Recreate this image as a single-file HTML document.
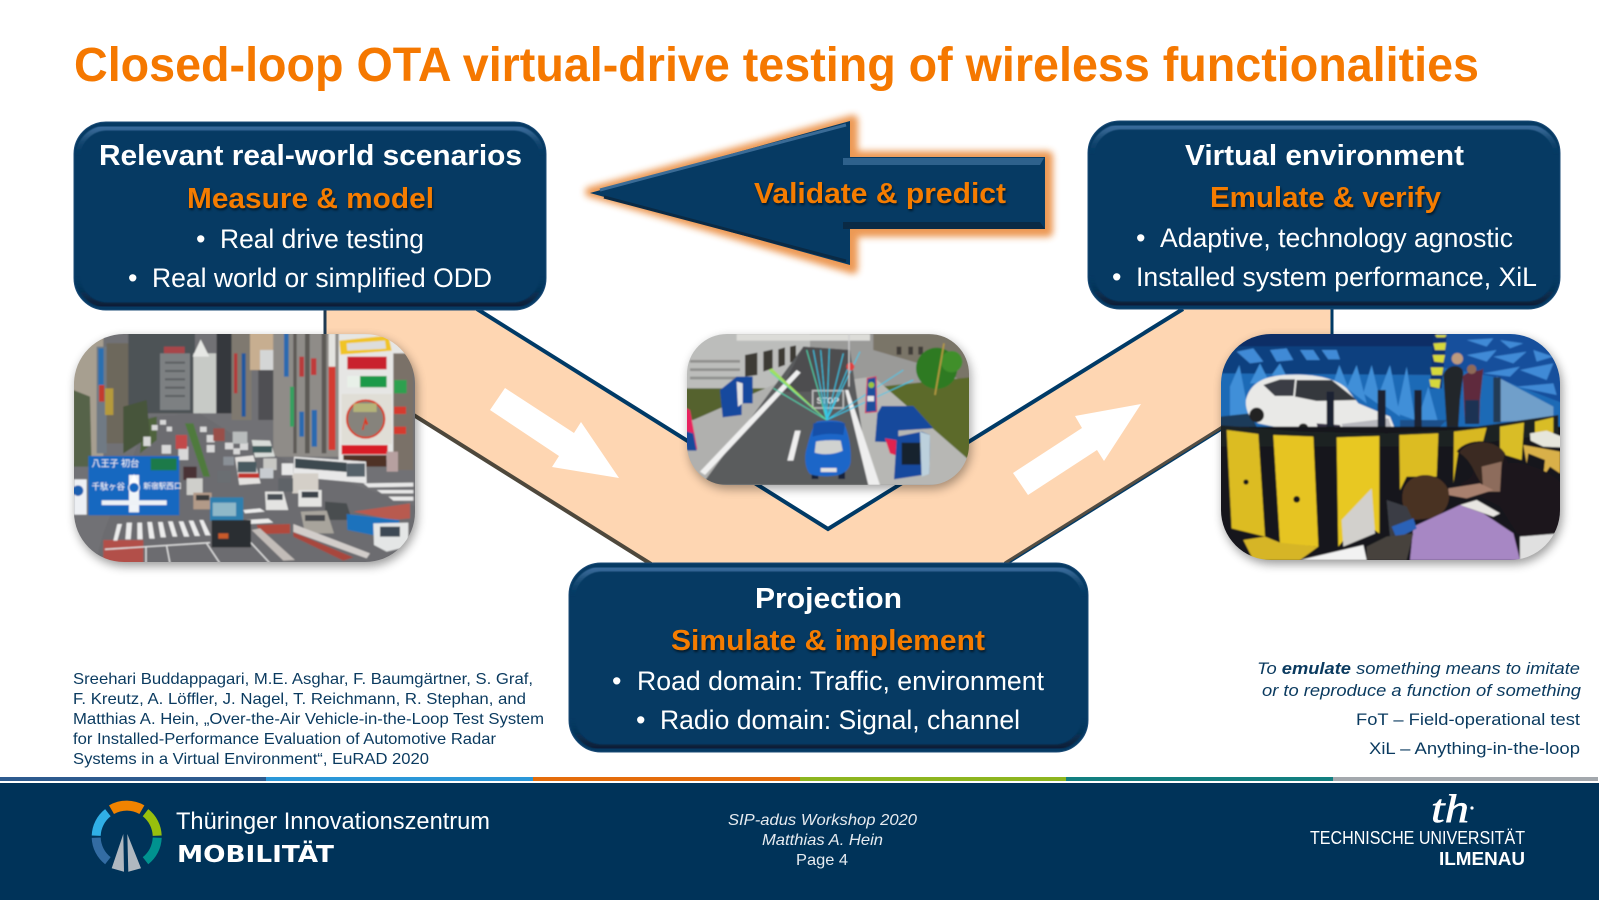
<!DOCTYPE html>
<html lang="en">
<head>
<meta charset="utf-8">
<title>Closed-loop OTA virtual-drive testing</title>
<style>
html,body{margin:0;padding:0;background:#fff;width:1600px;height:900px;overflow:hidden}
svg{display:block}
text{font-family:"Liberation Sans","Noto Sans CJK JP",sans-serif}
.h{font-weight:700;font-size:29px;fill:#fff}
.o{font-weight:700;font-size:29px;fill:#f57c00;filter:drop-shadow(1px 2px 1px rgba(0,0,0,.55))}
.b{font-size:27px;fill:#fff}
.c{font-size:16px;fill:#0a3a5f}
.n{font-size:17px;fill:#0a3a5f}
.f{font-size:16px;fill:#e6ebf0}
.tb{fill:none;stroke:url(#lit);stroke-width:5}
.bb{fill:none;stroke:url(#drk);stroke-width:5}
</style>
</head>
<body>
<svg xmlns="http://www.w3.org/2000/svg" width="1600" height="900" viewBox="0 0 1600 900">
<defs>
<linearGradient id="lit" x1="0" y1="0" x2="0" y2="1">
<stop offset="0" stop-color="#38699a"/><stop offset=".2" stop-color="#2d5f8a"/><stop offset="1" stop-color="#063a63" stop-opacity="0"/>
</linearGradient>
<linearGradient id="drk" x1="0" y1="1" x2="0" y2="0">
<stop offset="0" stop-color="#071f38"/><stop offset=".25" stop-color="#0a2a48"/><stop offset="1" stop-color="#063a63" stop-opacity="0"/>
</linearGradient>
<filter id="glow" x="-10%" y="-20%" width="120%" height="140%"><feGaussianBlur stdDeviation="3.5"/></filter>
<filter id="sh" x="-10%" y="-10%" width="120%" height="125%"><feGaussianBlur stdDeviation="5"/></filter>
<filter id="soft" x="-2%" y="-2%" width="104%" height="104%"><feGaussianBlur stdDeviation="0.9"/></filter>
<filter id="bv" x="-5%" y="-5%" width="110%" height="110%"><feGaussianBlur stdDeviation="0.6"/></filter>
<clipPath id="p1"><rect x="74" y="334" width="341" height="228" rx="50"/></clipPath>
<clipPath id="p2"><rect x="687" y="334" width="282" height="151" rx="40"/></clipPath>
<clipPath id="p3"><rect x="1221" y="334" width="339" height="226" rx="50"/></clipPath>
</defs>

<rect width="1600" height="900" fill="#fff"/>

<!-- Title -->
<text x="74" y="81" font-size="48" font-weight="700" fill="#f57800" textLength="1405" lengthAdjust="spacingAndGlyphs">Closed-loop OTA virtual-drive testing of wireless functionalities</text>

<!-- V band -->
<polygon points="326,309 477,309 828,529 1183,309 1331,309 1331,360 1005,564 651,564 326,360" fill="#fed6b2"/>
<polyline points="477,309 828,529 1183,309" fill="none" stroke="#003a66" stroke-width="4"/>
<line x1="325" y1="309" x2="325" y2="340" stroke="#1f3a52" stroke-width="3"/>
<line x1="1332" y1="309" x2="1332" y2="340" stroke="#003a66" stroke-width="3"/>
<line x1="326" y1="360" x2="651" y2="564" stroke="#4e483c" stroke-width="4"/>
<line x1="1331" y1="360" x2="1005" y2="564" stroke="#003a66" stroke-width="4"/>
<line x1="1331" y1="359" x2="1005" y2="563" stroke="#544d42" stroke-width="3"/>
<polygon points="505,388 490,410 559,456 552,467 619,478 581,422 574,433" fill="#fff"/>
<polygon points="1141,404 1075,416 1082,428 1013,473 1028,495 1097,450 1104,461" fill="#fff"/>

<!-- Box 1 -->
<rect x="74" y="122" width="472" height="188" rx="32" fill="#063a63" stroke="#1b4b76" stroke-width="1"/>
<path class="tb" filter="url(#bv)" d="M78 156A29 29 0 0 1 107 128H513A29 29 0 0 1 542 156"/>
<path class="bb" filter="url(#bv)" d="M78 276A29 29 0 0 0 107 305H513A29 29 0 0 0 542 276"/>
<text class="h" x="99" y="165" textLength="423" lengthAdjust="spacingAndGlyphs">Relevant real-world scenarios</text>
<text class="o" x="187" y="208" textLength="247" lengthAdjust="spacingAndGlyphs">Measure &amp; model</text>
<text class="b" x="196" y="248">•</text><text class="b" x="220" y="248" textLength="204" lengthAdjust="spacingAndGlyphs">Real drive testing</text>
<text class="b" x="128" y="287">•</text><text class="b" x="152" y="287" textLength="340" lengthAdjust="spacingAndGlyphs">Real world or simplified ODD</text>

<!-- Box 2 -->
<rect x="1088" y="121" width="472" height="188" rx="32" fill="#063a63" stroke="#1b4b76" stroke-width="1"/>
<path class="tb" filter="url(#bv)" d="M1092 155A29 29 0 0 1 1121 127H1527A29 29 0 0 1 1556 155"/>
<path class="bb" filter="url(#bv)" d="M1092 275A29 29 0 0 0 1121 304H1527A29 29 0 0 0 1556 275"/>
<text class="h" x="1185" y="165" textLength="279" lengthAdjust="spacingAndGlyphs">Virtual environment</text>
<text class="o" x="1210" y="207" textLength="231" lengthAdjust="spacingAndGlyphs">Emulate &amp; verify</text>
<text class="b" x="1136" y="247">•</text><text class="b" x="1160" y="247" textLength="353" lengthAdjust="spacingAndGlyphs">Adaptive, technology agnostic</text>
<text class="b" x="1112" y="286">•</text><text class="b" x="1136" y="286" textLength="401" lengthAdjust="spacingAndGlyphs">Installed system performance, XiL</text>

<!-- Central arrow -->
<polygon points="590,192 853,120 853,156 1048,156 1048,232 853,232 853,269" fill="#e8802a" stroke="#e8802a" stroke-width="10" stroke-linejoin="round" filter="url(#glow)" opacity=".8"/>
<polygon points="590,193 850,121 850,157 1045,157 1045,229 850,229 850,265" fill="#063a63"/>
<polyline points="600,190 846,125" fill="none" stroke="#3a6b96" stroke-width="3"/>
<polygon points="843,158 1044,158 1040,165 843,165" fill="#2e618c"/>
<polyline points="604,197 846,261" fill="none" stroke="#0a2a45" stroke-width="3"/>
<polygon points="843,222 1040,222 1045,229 843,229" fill="#0a2a45"/>
<text class="o" x="754" y="203" textLength="252" lengthAdjust="spacingAndGlyphs">Validate &amp; predict</text>

<!-- Photo 1 shadow + image -->
<rect x="76" y="338" width="341" height="228" rx="50" fill="#000" opacity=".4" filter="url(#sh)"/>
<g clip-path="url(#p1)"><g filter="url(#soft)"><g transform="translate(60 320) scale(.33333)">
<rect x="30" y="30" width="1050" height="720" fill="#717174"/>
<rect x="30" y="30" width="100" height="400" fill="#a79f90"/>
<rect x="110" y="80" width="30" height="320" fill="#6f7a84"/>
<rect x="115" y="85" width="16" height="110" fill="#2a6fb0"/><rect x="117" y="195" width="16" height="50" fill="#c43a2e"/>
<rect x="140" y="70" width="70" height="300" fill="#6d675c"/>
<rect x="135" y="205" width="25" height="80" fill="#b59a3a"/>
<rect x="205" y="30" width="200" height="250" fill="#4e5256"/>
<rect x="300" y="100" width="90" height="170" fill="#7d8082"/>
<g fill="#5c5f62"><rect x="315" y="125" width="60" height="6"/><rect x="315" y="150" width="60" height="6"/><rect x="315" y="175" width="60" height="6"/><rect x="315" y="200" width="60" height="6"/><rect x="315" y="225" width="60" height="6"/></g>
<rect x="312" y="80" width="62" height="20" fill="#a8454a"/>
<rect x="400" y="100" width="68" height="180" fill="#c7cac6"/>
<polygon points="398,110 422,58 448,110" fill="#e6e7e4"/>
<rect x="470" y="30" width="45" height="250" fill="#34383c"/>
<rect x="515" y="30" width="60" height="270" fill="#7f7970"/>
<rect x="545" y="100" width="12" height="190" fill="#24589e"/>
<rect x="522" y="100" width="10" height="120" fill="#b43a3a"/>
<rect x="570" y="30" width="70" height="120" fill="#c7ae90"/>
<rect x="600" y="90" width="40" height="60" fill="#d4d6d6"/>
<rect x="595" y="150" width="45" height="150" fill="#4f5052"/>
<rect x="640" y="30" width="200" height="380" fill="#8f8c88"/>
<g fill="#5d5a56"><rect x="735" y="40" width="14" height="360"/><rect x="700" y="40" width="10" height="360"/><rect x="785" y="40" width="14" height="360"/></g>
<rect x="672" y="40" width="14" height="130" fill="#2a6ab0"/>
<rect x="690" y="200" width="12" height="120" fill="#36a060"/>
<rect x="718" y="110" width="14" height="60" fill="#b93a3a"/>
<rect x="753" y="115" width="16" height="50" fill="#c03a3a"/>
<rect x="755" y="270" width="16" height="110" fill="#2a6ab0"/>
<rect x="718" y="275" width="14" height="75" fill="#2a6ab0"/>
<rect x="806" y="140" width="20" height="250" fill="#d43a30"/>
<rect x="806" y="40" width="20" height="100" fill="#e4e4e0"/>
<rect x="836" y="40" width="210" height="380" fill="#e6e6e4"/>
<rect x="1000" y="100" width="60" height="350" fill="#7a7168"/>
<polygon points="838,62 985,46 995,92 842,104" fill="#f0c428"/>
<polygon points="860,70 975,62 978,86 862,92" fill="#ddd"/>
<rect x="862" y="110" width="118" height="38" fill="#c9222e"/>
<rect x="862" y="168" width="118" height="34" fill="#e8f0e8"/><rect x="900" y="168" width="80" height="34" fill="#1f9a4a"/>
<rect x="1002" y="180" width="38" height="40" fill="#2fa050"/>
<rect x="1002" y="260" width="36" height="22" fill="#d63a2e"/><rect x="1002" y="320" width="36" height="22" fill="#d63a2e"/>
<rect x="845" y="222" width="150" height="150" fill="#e0ded6"/>
<circle cx="917" cy="297" r="56" fill="#86837c" stroke="#d83a22" stroke-width="6"/>
<rect x="880" y="250" width="70" height="26" fill="#c8c878" opacity=".7"/>
<polygon points="905,330 916,290 925,312 918,316 915,308 911,330" fill="#d83a22"/>
<rect x="845" y="375" width="138" height="28" fill="#d81f26"/>
<rect x="850" y="405" width="130" height="35" fill="#4f3028"/>
<rect x="980" y="395" width="34" height="60" fill="#b7a0a0"/>
<!-- road -->
<polygon points="270,290 420,280 560,370 700,430 1070,560 1070,750 100,750 130,640 230,380" fill="#6c6c70"/>
<polygon points="250,300 290,290 290,360 240,400" fill="#50643e"/>
<polygon points="375,310 400,310 450,470 430,470" fill="#4f7a3c"/>
<polygon points="190,260 260,240 270,350 190,400" fill="#46543a"/>
<polygon points="40,210 90,230 95,440 40,440" fill="#56634a"/>
<!-- far traffic -->
<g fill="#d8d8d8">
<rect x="275" y="315" width="18" height="16"/><rect x="300" y="300" width="18" height="14"/><rect x="320" y="320" width="16" height="14"/><rect x="420" y="320" width="20" height="16"/><rect x="440" y="345" width="24" height="22"/><rect x="305" y="375" width="28" height="26"/><rect x="355" y="380" width="30" height="40"/><rect x="495" y="368" width="25" height="20"/><rect x="540" y="368" width="24" height="22"/><rect x="440" y="375" width="24" height="22"/>
<rect x="520" y="385" width="20" height="18"/><rect x="250" y="350" width="22" height="28"/>
</g>
<rect x="347" y="345" width="34" height="42" fill="#c24a4a"/>
<rect x="460" y="325" width="34" height="38" fill="#994f48"/>
<rect x="518" y="335" width="44" height="36" fill="#b8bcbc"/>
<polygon points="575,360 630,362 645,410 585,412" fill="#d8dcd8"/><rect x="578" y="378" width="58" height="20" fill="#3d5a5a"/>
<!-- bus centre -->
<polygon points="525,412 580,406 602,490 538,495" fill="#e4e2e0"/><rect x="533" y="425" width="56" height="32" fill="#4a5a60"/><rect x="535" y="460" width="62" height="14" fill="#c2352e"/>
<!-- white bus -->
<polygon points="702,410 918,425 920,490 700,470" fill="#e8e8e8"/><polygon points="705,415 860,428 860,456 705,444" fill="#3e4850"/><rect x="860" y="430" width="55" height="40" fill="#56626a"/>
<!-- truck white middle -->
<rect x="697" y="460" width="78" height="60" fill="#d4cfc8"/><rect x="715" y="510" width="70" height="50" fill="#e4e4e2"/><rect x="725" y="515" width="50" height="18" fill="#3a4248"/>
<rect x="665" y="430" width="35" height="35" fill="#e8e8e8"/>
<rect x="610" y="415" width="40" height="35" fill="#c8c8c4"/><rect x="600" y="445" width="40" height="30" fill="#c8ccd0"/>
<rect x="490" y="410" width="32" height="26" fill="#8a9096"/><rect x="472" y="452" width="40" height="36" fill="#6a6e72"/>
<rect x="655" y="475" width="44" height="40" fill="#5e6468"/>
<rect x="370" y="440" width="40" height="40" fill="#4a3034"/><rect x="380" y="475" width="48" height="50" fill="#cfcfcb"/>
<rect x="400" y="518" width="55" height="50" fill="#b29a88"/><rect x="408" y="525" width="40" height="16" fill="#3c3c3c"/>
<polygon points="615,515 670,515 685,570 618,570" fill="#e4e4e2"/><rect x="622" y="522" width="46" height="18" fill="#4a5056"/>
<polygon points="795,545 860,550 876,600 795,600" fill="#4a4d50"/>
<polygon points="722,575 800,572 822,640 735,640" fill="#a8a49c"/><rect x="735" y="585" width="60" height="18" fill="#484c50"/>
<!-- reds on ground -->
<polygon points="880,575 1050,550 1050,595 1000,600" fill="#b85a50"/>
<rect x="130" y="660" width="120" height="70" fill="#b25048"/>
<!-- crosswalk right -->
<g fill="#e8e8e8"><polygon points="910,490 1060,488 1060,500 925,502"/><polygon points="950,510 1060,510 1060,520 965,520"/><polygon points="985,530 1060,530 1060,542 1000,542"/></g>
<!-- crosswalk -->
<g fill="#ececec">
<polygon points="172,612 186,612 172,662 160,662"/><polygon points="200,608 216,608 212,658 196,658"/><polygon points="232,608 246,608 248,658 232,658"/><polygon points="262,606 276,606 284,656 268,656"/><polygon points="294,606 308,606 318,652 302,652"/><polygon points="324,604 338,604 352,650 338,650"/><polygon points="356,604 370,604 388,650 372,650"/><polygon points="386,602 400,602 420,648 404,648"/><polygon points="418,600 430,600 452,646 436,646"/>
<polygon points="555,600 625,596 640,608 570,612"/><polygon points="550,570 600,565 615,575 555,580"/>
</g>
<g stroke="#e4e4e4" stroke-width="4" fill="none"><line x1="440" y1="670" x2="480" y2="730"/><line x1="570" y1="665" x2="630" y2="730"/><line x1="135" y1="688" x2="450" y2="668"/><line x1="258" y1="680" x2="258" y2="730"/><line x1="320" y1="678" x2="330" y2="730"/></g>
<!-- dark truck -->
<rect x="450" y="532" width="100" height="70" fill="#2f7fae"/><rect x="458" y="548" width="70" height="40" fill="#8fb8c8"/>
<rect x="455" y="600" width="118" height="82" fill="#2c2e30"/><rect x="475" y="640" width="30" height="16" fill="#c85a2a"/>
<!-- blue truck right -->
<polygon points="860,582 1018,600 1012,660 862,630" fill="#1e72bc"/>
<polygon points="940,610 1045,608 1045,680 980,695 942,675" fill="#e4e6e6"/><rect x="960" y="620" width="60" height="30" fill="#3e4a54"/>
<!-- railings -->
<polygon points="590,615 690,612 690,640 600,642" fill="#b04a3e"/><polygon points="575,630 600,625 705,720 670,722" fill="#c2bcb8"/>
<polygon points="700,612 930,700 920,715 700,636" fill="#d2cdca"/><polygon points="700,636 880,712 850,722 700,650" fill="#a8463c"/>
<!-- sign -->
<rect x="85" y="408" width="273" height="178" fill="#1567c0"/>
<rect x="272" y="415" width="78" height="36" fill="#1c7a4a"/>
<rect x="207" y="465" width="30" height="112" fill="#f0f4f8"/>
<rect x="125" y="541" width="195" height="14" fill="#eef2f6"/>
<polygon points="222,462 236,490 208,490" fill="#fff"/>
<circle cx="222" cy="503" r="16" fill="#1567c0" stroke="#fff" stroke-width="3"/>
<text x="95" y="440" font-size="27" fill="#fff">八王子 初台</text>
<text x="95" y="508" font-size="25" fill="#fff">千駄ヶ谷</text>
<text x="250" y="505" font-size="23" fill="#fff">新宿駅西口</text>
<rect x="42" y="478" width="38" height="106" fill="#eef0f4"/><circle cx="54" cy="512" r="16" fill="#1a5fb0"/>
</g></g></g>

<!-- Photo 2 -->
<rect x="689" y="338" width="282" height="151" rx="40" fill="#000" opacity=".35" filter="url(#sh)"/>
<g clip-path="url(#p2)"><g filter="url(#soft)"><g transform="translate(670 320) scale(.33333)">
<rect x="40" y="30" width="880" height="480" fill="#9a9a98"/>
<rect x="40" y="30" width="380" height="175" fill="#bcbdbb"/>
<g fill="#8f8f8d"><rect x="60" y="120" width="150" height="8"/><rect x="60" y="145" width="150" height="8"/><rect x="60" y="170" width="150" height="8"/></g>
<rect x="200" y="42" width="400" height="20" fill="#dcdcd8"/>
<g fill="#3c3a36"><polygon points="225,105 262,98 262,165 225,170"/><polygon points="280,95 308,88 308,145 280,155"/><polygon points="325,88 345,82 345,135 325,142"/><polygon points="360,80 378,76 378,122 360,128"/></g>
<polygon points="610,42 920,42 920,200 780,140 610,90" fill="#7a7468"/>
<g fill="#3f3c38"><rect x="680" y="80" width="14" height="24"/><rect x="715" y="80" width="14" height="24"/><rect x="745" y="80" width="14" height="24"/></g>
<polygon points="40,205 310,205 70,300 40,300" fill="#54622d"/>
<polygon points="70,300 320,190 400,150 95,495 40,495 40,300" fill="#b0b0ae"/>
<polygon points="630,200 920,170 920,440 760,310" fill="#5b6a2a"/>
<polygon points="530,180 610,170 920,440 920,495 610,495" fill="#b7b7b4"/>
<polygon points="400,80 540,90 600,495 95,495" fill="#5a5b5d"/>
<polygon points="400,80 540,90 530,215 330,215" fill="#4d4e50"/>
<polygon points="380,150 392,158 105,465 90,455" fill="#f0f0f0"/>
<polygon points="525,210 535,210 630,495 595,495" fill="#eee"/>
<polygon points="375,332 392,332 370,422 352,422" fill="#eee"/>
<rect x="428" y="212" width="92" height="52" fill="none" stroke="#bcbcbc" stroke-width="5"/>
<text x="440" y="250" font-size="25" font-weight="700" fill="#e6e6e6">STOP</text>
<g stroke-width="3" fill="none">
<path d="M470 300L300 155M470 300L310 205M470 300L410 90" stroke="#4ed8b0"/>
<path d="M470 300L430 90M470 300L452 90M470 300L478 85M470 300L520 100M470 300L570 95M470 300L540 130M470 300L700 150M470 300L730 180" stroke="#35c8e8"/>
</g>
<polygon points="470,300 296,150 306,145" fill="#a2e060"/>
<circle cx="800" cy="145" r="62" fill="#2f7a24"/><circle cx="845" cy="125" r="32" fill="#3f8f2c"/>
<line x1="822" y1="70" x2="795" y2="225" stroke="#b59a40" stroke-width="5"/>
<polygon points="150,210 200,170 248,170 248,250 215,250 215,285 158,292" fill="#13499e"/>
<polygon points="200,185 218,190 218,250 204,260" fill="#e2e2e2"/>
<polygon points="40,260 60,270 82,388 40,392" fill="#e7245e"/><polygon points="40,330 70,340 80,392 40,392" fill="#18489a"/>
<polygon points="592,175 618,170 620,275 586,278" fill="#1a4f9c" stroke="#d8385a" stroke-width="3"/>
<circle cx="604" cy="195" r="9" fill="#9cc53c"/><rect x="592" y="228" width="20" height="16" fill="#e8e8e8"/>
<circle cx="541" cy="140" r="12" fill="#e04040"/>
<line x1="537" y1="30" x2="537" y2="200" stroke="#cfcfcf" stroke-width="4"/>
<polygon points="635,258 730,258 790,325 685,332 685,368 615,365 622,280" fill="#13489c"/>
<polygon points="645,355 685,362 695,412 660,400" fill="#e02450"/>
<polygon points="680,350 755,335 780,345 778,462 672,478" fill="#134a9e"/><rect x="695" y="368" width="56" height="66" fill="#12202e"/>
<polygon points="750,335 780,345 778,462 755,470" fill="#bcd0dc"/>
<!-- car -->
<rect x="425" y="455" width="20" height="22" fill="#15233a"/><rect x="505" y="455" width="20" height="22" fill="#15233a"/>
<path d="M440 305C465 300 505 300 520 308C535 335 545 380 542 425C540 445 525 462 500 466C470 470 440 470 420 462C405 445 402 410 410 385C418 355 425 325 440 305Z" fill="#1f66c8"/>
<path d="M438 365C460 360 495 360 512 362L518 392C490 405 455 405 434 398Z" fill="#d0d2d0"/>
<path d="M430 310C465 304 505 304 525 310L520 345C490 340 460 340 428 350Z" fill="#1650a8"/>
<rect x="452" y="444" width="48" height="12" fill="#e2e2e2"/>
</g></g></g>

<!-- Photo 3 -->
<rect x="1223" y="338" width="339" height="226" rx="50" fill="#000" opacity=".4" filter="url(#sh)"/>
<g clip-path="url(#p3)"><g filter="url(#soft)"><g transform="translate(1200 320) scale(.33333)">
<rect x="50" y="30" width="1050" height="330" fill="#1f6ab6"/>
<rect x="50" y="30" width="660" height="50" fill="#0a2f66"/>
<polygon points="50,80 710,80 710,165 50,160" fill="#10417f"/>
<polygon points="715,40 1090,40 1090,250 880,170 715,140" fill="#184f9c"/>
<g fill="#3f8ad6">
<polygon points="800,60 880,55 860,80"/><polygon points="900,60 970,70 930,85"/><polygon points="800,105 890,90 860,125"/><polygon points="880,110 980,95 940,130"/><polygon points="1000,90 1060,110 1010,125"/><polygon points="850,160 960,140 930,170"/><polygon points="960,150 1060,130 1040,180"/><polygon points="950,200 1060,190 1070,225"/>
<polygon points="110,95 160,85 190,125 150,130"/><polygon points="210,90 260,85 280,120 230,125"/><polygon points="300,90 340,90 360,120 320,120"/><polygon points="365,90 410,90 420,118 385,118"/>
</g>
<g fill="#3f8fd8">
<polygon points="90,200 118,135 150,300 90,300"/><polygon points="150,190 180,130 210,190"/>
<polygon points="215,165 240,130 265,180"/>
<polygon points="400,190 418,135 445,205"/><polygon points="440,205 470,135 500,250"/><polygon points="490,220 515,135 545,260"/><polygon points="530,240 570,135 600,290"/><polygon points="590,280 620,140 645,300"/><polygon points="650,310 685,200 715,310"/>
</g>
<polygon points="600,300 740,300 700,340 600,340" fill="#1d4f8a"/>
<polygon points="700,45 740,45 725,205 690,205" fill="#0c3270"/>
<g fill="#d6d83a"><polygon points="705,45 740,45 735,52 710,52"/><polygon points="700,70 738,68 735,90 705,90"/><polygon points="698,105 735,105 730,128 703,125"/><polygon points="692,142 730,142 726,165 696,165"/><polygon points="688,178 722,178 718,205 692,200"/></g>
<polygon points="60,290 150,280 170,320 60,320" fill="#1b3a5a"/>
<polygon points="890,170 1060,260 1060,300 890,305" fill="#6f9fca"/>
<!-- car -->
<path d="M138 240C150 190 190 170 250 165C330 160 400 170 440 205L475 250L570 290L590 340L320 340L175 310C150 300 135 270 138 240Z" fill="#e9e9e7"/>
<polygon points="190,195 240,178 285,178 280,228 225,228" fill="#3a3e44"/>
<polygon points="290,180 395,180 470,240 350,243 285,230" fill="#35383c"/>
<polygon points="350,310 420,315 425,340 355,335" fill="#3b3548"/>
<polygon points="425,312 565,295 580,338 435,338" fill="#b8b8be"/>
<circle cx="170" cy="285" r="22" fill="#222"/><circle cx="310" cy="325" r="15" fill="#222"/>
<!-- poles -->
<rect x="380" y="215" width="22" height="125" fill="#1c2430"/>
<rect x="533" y="210" width="24" height="130" fill="#1c2430"/>
<rect x="643" y="210" width="22" height="125" fill="#1c2430"/>
<rect x="880" y="172" width="22" height="135" fill="#233a55"/>
<!-- people standing -->
<path d="M730 165C740 130 790 130 790 160L780 240L775 320L740 320Z" fill="#21252b"/>
<circle cx="772" cy="116" r="17" fill="#bd9a7e"/>
<path d="M788 170C800 150 845 155 850 145L840 240L838 310L795 310Z" fill="#5f2a3c"/>
<rect x="795" y="240" width="42" height="72" fill="#1d3252"/>
<circle cx="815" cy="148" r="14" fill="#8f6a58"/>
<!-- fence -->
<rect x="50" y="320" width="1050" height="430" fill="#15171a"/>
<polygon points="50,315 300,335 560,340 760,330 1075,285 1075,340 760,380 50,380" fill="#1c2024"/>
<polygon points="80,330 175,342 195,650 95,625" fill="#dcbc20"/>
<polygon points="220,345 340,350 355,680 240,670" fill="#e6c420"/>
<polygon points="410,352 538,348 538,640 480,600 415,680" fill="#e8c822"/>
<polygon points="598,345 715,340 710,470 620,470 600,510" fill="#dcbc20"/>
<polygon points="762,335 860,323 845,380 775,395 760,490" fill="#d8b820"/>
<polygon points="900,320 972,308 965,420 900,400" fill="#d9bd26"/>
<polygon points="1005,305 1060,292 1060,340 1005,345" fill="#d9bd26"/>
<polygon points="130,660 195,650 240,668 355,680 300,720 160,720" fill="#d6b528"/>
<circle cx="138" cy="486" r="8" fill="#15171a"/><circle cx="290" cy="538" r="10" fill="#15171a"/>
<!-- table -->
<polygon points="970,375 1080,395 1080,460 1050,440 1030,470 1035,420 985,400 980,430" fill="#d9b04a"/>
<polygon points="990,340 1040,332 1085,350 1085,382 1030,380 992,362" fill="#e6e6dc"/>
<!-- man dark -->
<path d="M770 395C790 360 880 345 915 400L925 430C960 420 1050 450 1085 490L1085 680L1000 660L950 640L900 560L820 520L780 490C840 470 825 430 770 395Z" fill="#1a181a"/>
<path d="M780 395C800 365 880 350 915 400L905 440L880 510C830 510 830 430 780 400Z" fill="#3a2a22"/>
<polygon points="845,440 905,425 900,515 850,515" fill="#8d6c5c"/>
<polygon points="745,505 840,490 880,510 800,535 745,525" fill="#a8806e"/>
<!-- woman purple -->
<path d="M610 510C630 450 720 450 745 510C755 550 730 590 690 595L640 600C615 580 600 550 610 510Z" fill="#4a3024"/>
<path d="M640 620L780 555L850 580L940 640L960 720L630 720Z" fill="#a787c4"/>
<!-- monitor and bottom white -->
<polygon points="425,600 515,505 525,640 430,680" fill="#d2d0cc"/>
<polygon points="300,720 490,675 500,720" fill="#f2f2f2"/>
<polygon points="560,540 620,560 650,625 590,660 570,650" fill="#3a3e44"/>
<polygon points="575,620 640,595 650,625 590,655" fill="#2a62b8"/>
<polygon points="780,555 830,540 900,580 880,590" fill="#e8e6e2"/>
<polygon points="500,680 560,650 640,640 620,720 500,720" fill="#46423e"/>
<polygon points="960,650 1080,640 1080,730 960,730" fill="#e0e0e0"/>
</g></g></g>

<!-- Box 3 -->
<rect x="569" y="563" width="519" height="189" rx="32" fill="#063a63" stroke="#1b4b76" stroke-width="1"/>
<path class="tb" filter="url(#bv)" d="M573 597A29 29 0 0 1 602 569H1055A29 29 0 0 1 1084 597"/>
<path class="bb" filter="url(#bv)" d="M573 718A29 29 0 0 0 602 747H1055A29 29 0 0 0 1084 718"/>
<text class="h" x="755" y="608" textLength="147" lengthAdjust="spacingAndGlyphs">Projection</text>
<text class="o" x="671" y="650" textLength="314" lengthAdjust="spacingAndGlyphs">Simulate &amp; implement</text>
<text class="b" x="612" y="690">•</text><text class="b" x="637" y="690" textLength="407" lengthAdjust="spacingAndGlyphs">Road domain: Traffic, environment</text>
<text class="b" x="636" y="729">•</text><text class="b" x="660" y="729" textLength="360" lengthAdjust="spacingAndGlyphs">Radio domain: Signal, channel</text>

<!-- citation -->
<text class="c" x="73" y="684" textLength="460" lengthAdjust="spacingAndGlyphs">Sreehari Buddappagari, M.E. Asghar, F. Baumgärtner, S. Graf,</text>
<text class="c" x="73" y="704" textLength="453" lengthAdjust="spacingAndGlyphs">F. Kreutz, A. Löffler, J. Nagel, T. Reichmann, R. Stephan, and</text>
<text class="c" x="73" y="724" textLength="471" lengthAdjust="spacingAndGlyphs">Matthias A. Hein, „Over-the-Air Vehicle-in-the-Loop Test System</text>
<text class="c" x="73" y="744" textLength="423" lengthAdjust="spacingAndGlyphs">for Installed-Performance Evaluation of Automotive Radar</text>
<text class="c" x="73" y="764" textLength="356" lengthAdjust="spacingAndGlyphs">Systems in a Virtual Environment“, EuRAD 2020</text>

<!-- notes -->
<text class="n" x="1257" y="674" font-style="italic" textLength="323" lengthAdjust="spacingAndGlyphs">To <tspan font-weight="700">emulate</tspan> something means to imitate</text>
<text class="n" x="1262" y="696" font-style="italic" textLength="319" lengthAdjust="spacingAndGlyphs">or to reproduce a function of something</text>
<text class="n" x="1356" y="725" textLength="224" lengthAdjust="spacingAndGlyphs">FoT – Field-operational test</text>
<text class="n" x="1369" y="754" textLength="211" lengthAdjust="spacingAndGlyphs">XiL – Anything-in-the-loop</text>

<!-- stripe -->
<rect x="0" y="777" width="266" height="4" fill="#2d5a8e"/>
<rect x="266" y="777" width="267" height="4" fill="#2a97d8"/>
<rect x="533" y="777" width="267" height="4" fill="#e46c0a"/>
<rect x="800" y="777" width="266" height="4" fill="#8db51f"/>
<rect x="1066" y="777" width="267" height="4" fill="#127f80"/>
<rect x="1333" y="777" width="265" height="4" fill="#a3a8ad"/>

<!-- footer -->
<rect x="0" y="783" width="1599" height="117" fill="#003359"/>

<!-- ring logo -->
<g fill="none" stroke-width="9">
<path d="M111.5 809.7A30.5 30.5 0 0 1 141.9 809.7" stroke="#f08300" stroke-width="10"/>
<path d="M145.5 812.7A30.5 30.5 0 0 1 157.2 835.7" stroke="#97bf0d"/>
<path d="M157.2 837.7A30.5 30.5 0 0 1 145.5 860.7" stroke="#00928f"/>
<path d="M107.9 860.7A30.5 30.5 0 0 1 96.2 837.7" stroke="#336ca3"/>
<path d="M96.2 835.7A30.5 30.5 0 0 1 107.9 812.7" stroke="#30afe6"/>
</g>
<polygon points="123.3,834 124,871.7 111.7,868.3" fill="#b0b8c0"/>
<polygon points="127.3,834 128.3,871.7 141,868.3" fill="#b0b8c0"/>
<text x="176" y="829" font-size="24" fill="#fff" textLength="314" lengthAdjust="spacingAndGlyphs">Thüringer Innovationszentrum</text>
<text x="177" y="862" font-size="23" font-weight="700" fill="#fff" style="font-family:'DejaVu Sans',sans-serif" textLength="157" lengthAdjust="spacingAndGlyphs">MOBILITÄT</text>

<text class="f" x="728" y="825" font-style="italic" textLength="189" lengthAdjust="spacingAndGlyphs">SIP-adus Workshop 2020</text>
<text class="f" x="762" y="845" font-style="italic" textLength="121" lengthAdjust="spacingAndGlyphs">Matthias A. Hein</text>
<text class="f" x="796" y="865" textLength="52" lengthAdjust="spacingAndGlyphs">Page 4</text>

<text x="1431" y="822" font-size="40" font-style="italic" fill="#fff" stroke="#fff" stroke-width=".6" style="font-family:'Liberation Serif',serif" textLength="38" lengthAdjust="spacingAndGlyphs">th</text>
<circle cx="1472" cy="808" r="1.6" fill="#fff"/>
<text x="1310" y="844" font-size="18.5" fill="#fff" textLength="215" lengthAdjust="spacingAndGlyphs">TECHNISCHE UNIVERSITÄT</text>
<text x="1439" y="865" font-size="18.5" font-weight="700" fill="#fff" textLength="86" lengthAdjust="spacingAndGlyphs">ILMENAU</text>
</svg>
</body>
</html>
